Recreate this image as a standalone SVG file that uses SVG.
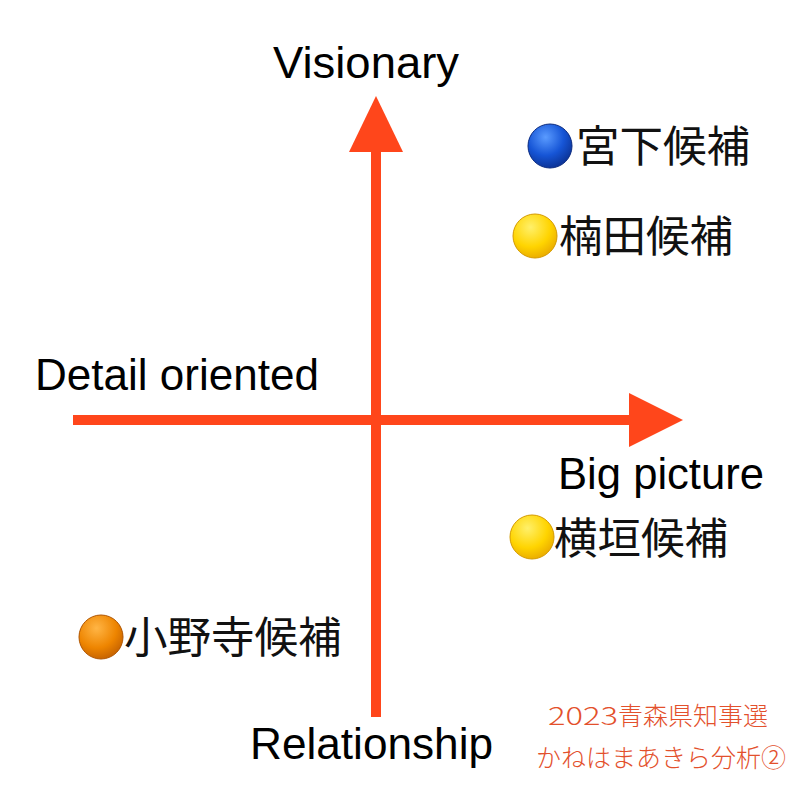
<svg xmlns="http://www.w3.org/2000/svg" width="800" height="800" viewBox="0 0 800 800">
  <style>
    .axis { fill: #FF461B; }
    .en { font-family: "Liberation Sans", Arial, sans-serif; font-size: 44px; fill: #000; }
    .jp { font-family: "Noto Sans CJK JP", "Noto Sans", sans-serif; font-size: 43.5px; fill: #111; }
    .note { font-family: "Noto Sans CJK JP", "Noto Sans", sans-serif; font-size: 25px; fill: #E3502C; font-weight: 300; }
  </style>
  <defs>
    <radialGradient id="gBlue" cx="0.4" cy="0.3" r="0.75">
      <stop offset="0" stop-color="#5A9BFF"/>
      <stop offset="0.55" stop-color="#1655D6"/>
      <stop offset="1" stop-color="#0A2F8F"/>
    </radialGradient>
    <radialGradient id="gYellow" cx="0.4" cy="0.3" r="0.75">
      <stop offset="0" stop-color="#FFF06A"/>
      <stop offset="0.6" stop-color="#FFD400"/>
      <stop offset="1" stop-color="#E8A800"/>
    </radialGradient>
    <radialGradient id="gOrange" cx="0.4" cy="0.3" r="0.75">
      <stop offset="0" stop-color="#FFB545"/>
      <stop offset="0.6" stop-color="#EE8500"/>
      <stop offset="1" stop-color="#C25F00"/>
    </radialGradient>
  </defs>
  <rect width="800" height="800" fill="#fff"/>

  <g id="connectors">
    <rect class="axis" x="371" y="150" width="10" height="567"/>
    <polygon class="axis" points="376,96 349,152 403,152"/>
    <rect class="axis" x="73" y="415" width="558" height="10"/>
    <polygon class="axis" points="683,420 629,393 629,447"/>
  </g>

  <g id="label-visionary"><text class="en" x="273" y="78" textLength="186" lengthAdjust="spacingAndGlyphs">Visionary</text></g>
  <g id="label-detail"><text class="en" x="35" y="390" textLength="284" lengthAdjust="spacingAndGlyphs">Detail oriented</text></g>
  <g id="label-bigpicture"><text class="en" x="558" y="489" textLength="206" lengthAdjust="spacingAndGlyphs">Big picture</text></g>
  <g id="label-relationship"><text class="en" x="250" y="759" textLength="243" lengthAdjust="spacingAndGlyphs">Relationship</text></g>

  <g id="node-miyashita">
    <circle cx="550" cy="146" r="22" fill="url(#gBlue)" stroke="#0A2A80" stroke-width="1"/>
    <text class="jp" x="576" y="162">宮下候補</text>
  </g>
  <g id="node-kusuda">
    <circle cx="535" cy="236" r="22" fill="url(#gYellow)" stroke="#D49A00" stroke-width="1"/>
    <text class="jp" x="559" y="252">楠田候補</text>
  </g>
  <g id="node-yokogaki">
    <circle cx="532" cy="537" r="22" fill="url(#gYellow)" stroke="#D49A00" stroke-width="1"/>
    <text class="jp" x="554" y="554">横垣候補</text>
  </g>
  <g id="node-onodera">
    <circle cx="101" cy="637" r="22" fill="url(#gOrange)" stroke="#B05500" stroke-width="1"/>
    <text class="jp" x="124" y="653">小野寺候補</text>
  </g>

  <g id="note">
    <text class="note" x="548" y="725"><tspan textLength="70" lengthAdjust="spacingAndGlyphs">2023</tspan>青森県知事選</text>
    <text class="note" x="661" y="767" text-anchor="middle">かねはまあきら分析②</text>
  </g>
</svg>
